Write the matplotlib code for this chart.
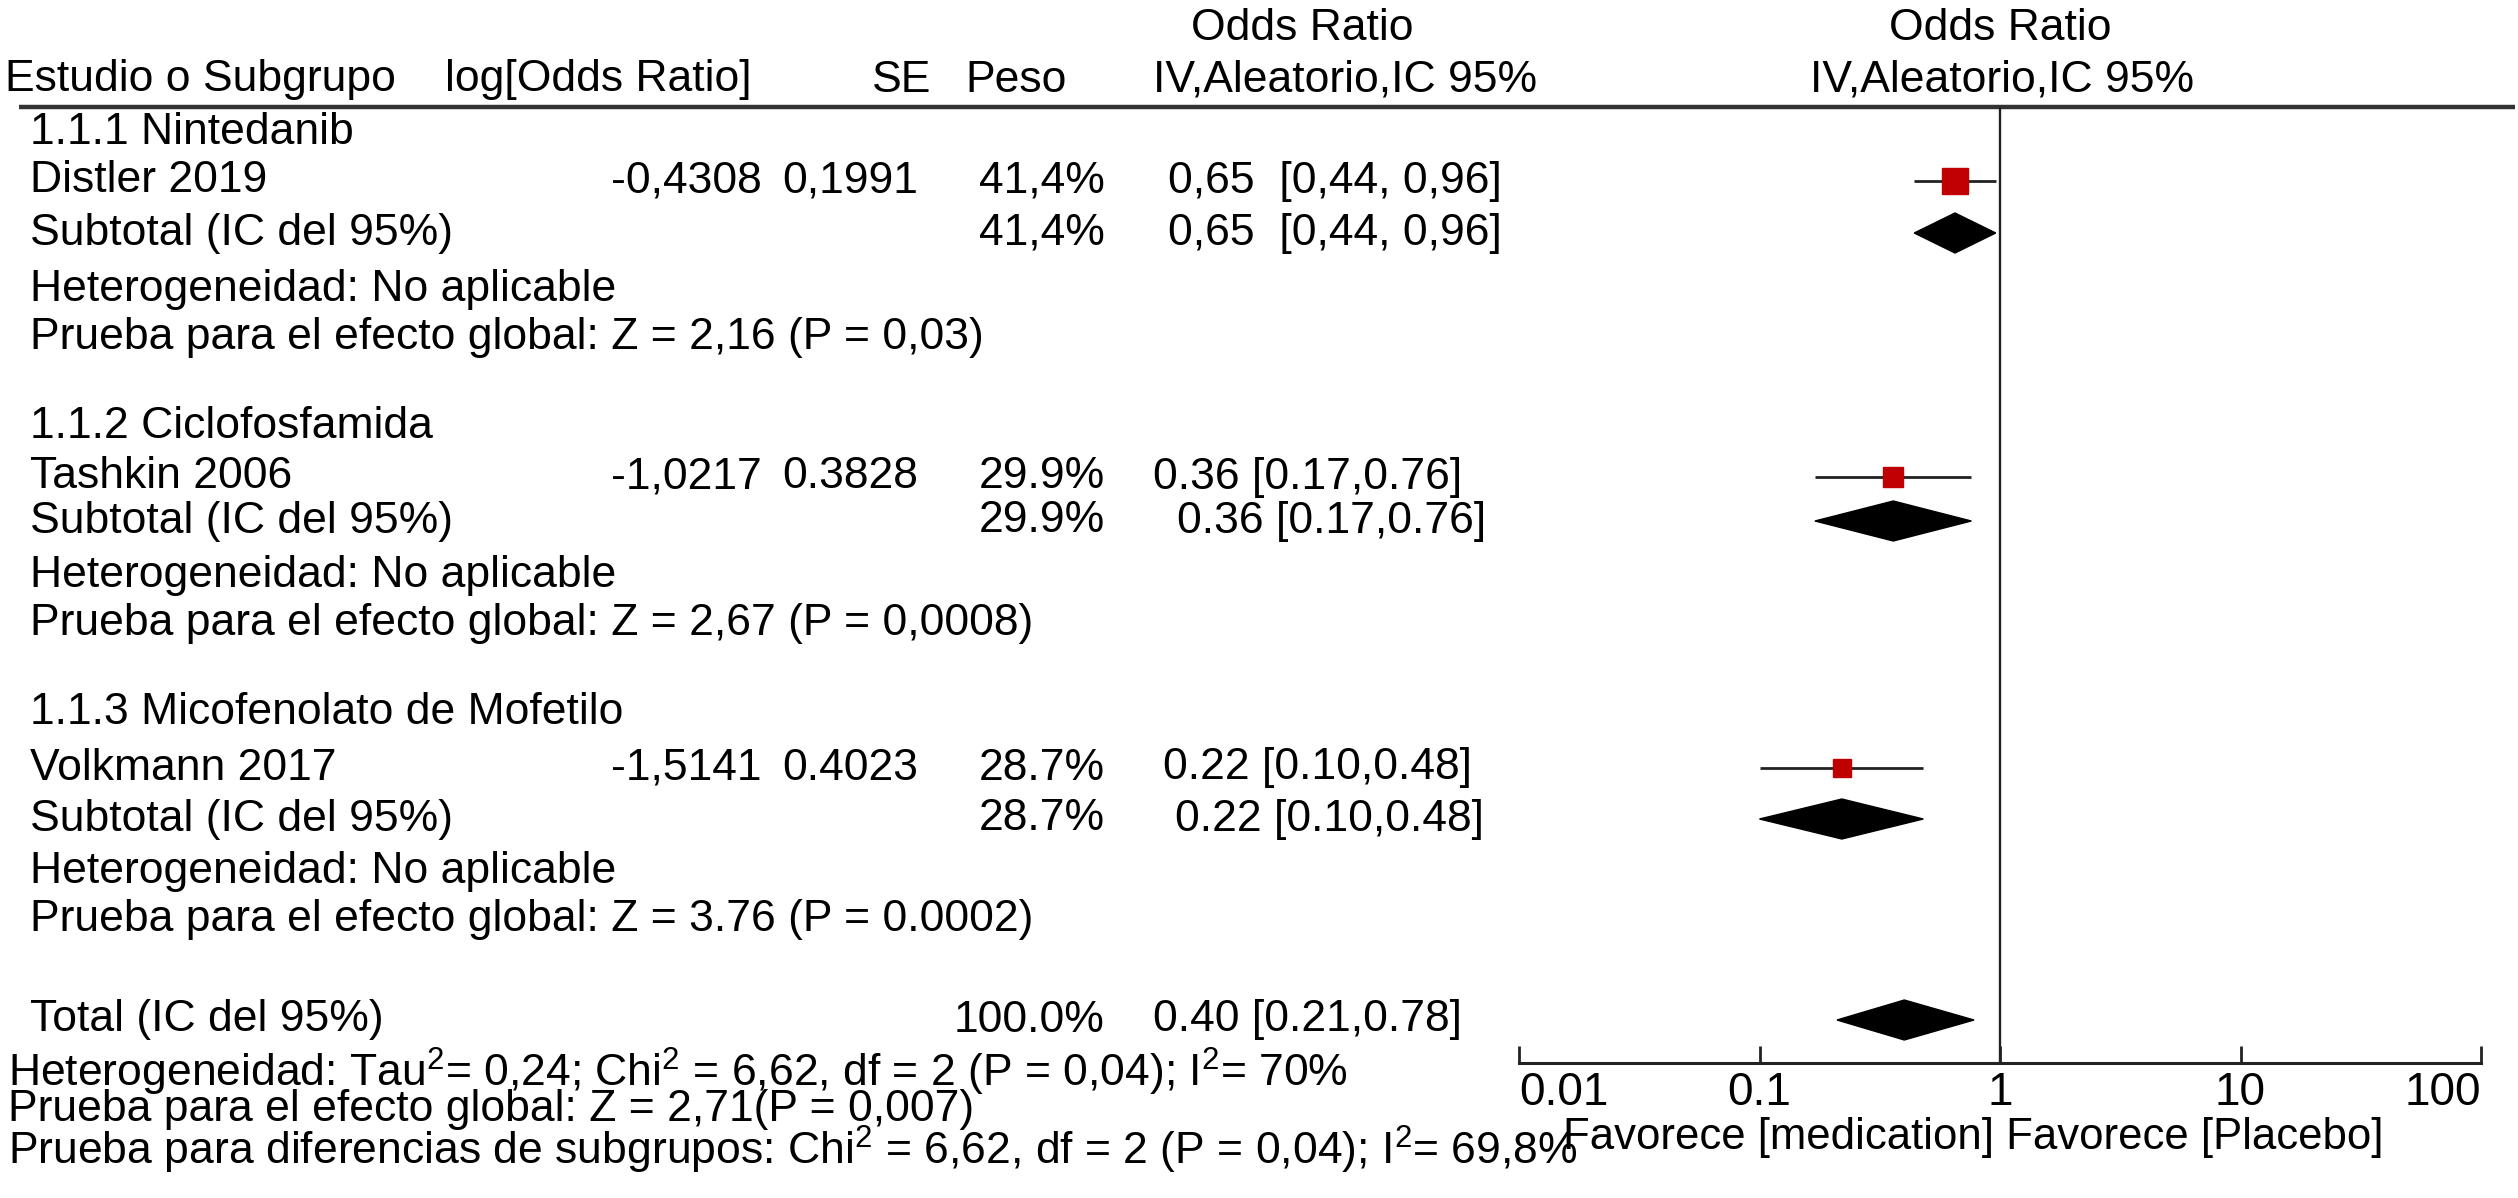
import numpy as np
import matplotlib
matplotlib.use("Agg")
import matplotlib.pyplot as plt

plt.rcParams['font.family'] = ['Liberation Sans', 'DejaVu Sans']
plt.rcParams['mathtext.fontset'] = 'custom'
plt.rcParams['mathtext.rm'] = 'Liberation Sans'
plt.rcParams['mathtext.it'] = 'Liberation Sans'

# Data
studies = ["Distler 2019", "Tashkin 2006", "Volkmann 2017"]
groups = ["1.1.1 Nintedanib", "1.1.2 Ciclofosfamida", "1.1.3 Micofenolato de Mofetilo"]
log_or = ["-0,4308", "-1,0217", "-1,5141"]
se = ["0,1991", "0.3828", "0.4023"]
weights = [41.4, 29.9, 28.7]
weight_labels = ["41,4%", "29.9%", "28.7%"]
or_est = [0.65, 0.36, 0.22]
or_lo = [0.44, 0.17, 0.10]
or_hi = [0.96, 0.76, 0.48]
ci_labels = ["0,65  [0,44, 0,96]", "0.36 [0.17,0.76]", "0.22 [0.10,0.48]"]
z_tests = ["Prueba para el efecto global: Z = 2,16 (P = 0,03)",
           "Prueba para el efecto global: Z = 2,67 (P = 0,0008)",
           "Prueba para el efecto global: Z = 3.76 (P = 0.0002)"]
total_est, total_lo, total_hi = 0.40, 0.21, 0.78
total_weight = "100.0%"
total_ci = "0.40 [0.21,0.78]"
footer = [r"Heterogeneidad: Tau$^{2}$= 0,24; Chi$^{2}$ = 6,62, df = 2 (P = 0,04); I$^{2}$= 70%",
          "Prueba para el efecto global: Z = 2,71(P = 0,007)",
          r"Prueba para diferencias de subgrupos: Chi$^{2}$ = 6,62, df = 2 (P = 0,04); I$^{2}$= 69,8%"]
ticks = [0.01, 0.1, 1, 10, 100]
tick_labels = ["0.01", "0.1", "1", "10", "100"]

# Layout (pixel rows)
W, H = 2518, 1198
group_y = [133, 426, 712]
study_y = [181, 477, 768]
sub_y = [233, 521, 819]
het_y = [289, 575, 872]
z_y = [337, 624, 920]
ci_x = [1168, 1153, 1163]
ci_sub_x = [1168, 1177, 1175]
total_y = 1020
footer_y = [1072, 1110, 1150]
FS = 32

fig = plt.figure(figsize=(W / 100, H / 100), dpi=100)
tx = fig.add_axes([0, 0, 1, 1])
tx.set_xlim(0, W)
tx.set_ylim(H, 0)
tx.axis("off")

def t(x, y, s, ha="left", fs=FS):
    tx.text(x, y, s, ha=ha, va="center", fontsize=fs, color="black")

# Header
t(1302, 29, "Odds Ratio", ha="center")
t(2000, 29, "Odds Ratio", ha="center")
t(5, 80, "Estudio o Subgrupo")
t(445, 80, "log[Odds Ratio]")
t(931, 80, "SE", ha="right")
t(965, 80, "Peso")
t(1345, 80, "IV,Aleatorio,IC 95%", ha="center")
t(2002, 80, "IV,Aleatorio,IC 95%", ha="center")
tx.plot([19, 2515], [107, 107], color="#333333", lw=3.2, solid_capstyle="butt")

# Rows
for i in range(3):
    t(30, group_y[i], groups[i])
    t(30, study_y[i], studies[i])
    t(762, study_y[i], log_or[i], ha="right")
    t(918, study_y[i], se[i], ha="right")
    t(1105, study_y[i], weight_labels[i], ha="right")
    t(ci_x[i], study_y[i], ci_labels[i])
    t(30, sub_y[i], "Subtotal (IC del 95%)")
    t(1105, sub_y[i], weight_labels[i], ha="right")
    t(ci_sub_x[i], sub_y[i], ci_labels[i])
    t(30, het_y[i], "Heterogeneidad: No aplicable")
    t(30, z_y[i], z_tests[i])

t(30, total_y, "Total (IC del 95%)")
t(1105, total_y, total_weight, ha="right")
t(1153, total_y, total_ci)
for s, y in zip(footer, footer_y):
    t(8, y, s)
t(1563, 1138, "Favorece [medication] Favorece [Placebo]", fs=31.5)

# Forest panel
x0, x1 = 1519, 2481
ytop, ybot = 107, 1063
ax = fig.add_axes([x0 / W, (H - ybot) / H, (x1 - x0) / W, (ybot - ytop) / H])
ax.set_xscale("log")
ax.set_xlim(0.01, 100)
ax.set_ylim(ybot, ytop)
ax.patch.set_alpha(0)
for side in ["top", "left", "right"]:
    ax.spines[side].set_visible(False)
ax.spines["bottom"].set_linewidth(2.2)
ax.spines["bottom"].set_color("#222222")
ax.set_yticks([])
ax.set_xticks(ticks)
ax.set_xticklabels(tick_labels)
ax.xaxis.set_minor_locator(matplotlib.ticker.NullLocator())
ax.tick_params(axis="x", direction="in", length=12, width=2, color="#222222", labelsize=33, pad=6)
labels = ax.get_xticklabels()
labels[0].set_ha("left")
labels[-1].set_ha("right")

ax.axvline(1, color="#222222", lw=1.7, zorder=1)

dh = 20
for i in range(3):
    ax.hlines(study_y[i], or_lo[i], or_hi[i], color="#222222", lw=2, zorder=2)
    side = weights[i] * 0.65 * 0.72
    ax.plot(or_est[i], study_y[i], "s", ms=side, color="#c00000", mec="#c00000", zorder=3)
    ax.fill([or_lo[i], or_est[i], or_hi[i], or_est[i]],
            [sub_y[i], sub_y[i] - dh, sub_y[i], sub_y[i] + dh], color="black", zorder=3)
ax.fill([total_lo, total_est, total_hi, total_est],
        [total_y, total_y - dh, total_y, total_y + dh], color="black", zorder=3)

fig.savefig("out.png", dpi=100)
